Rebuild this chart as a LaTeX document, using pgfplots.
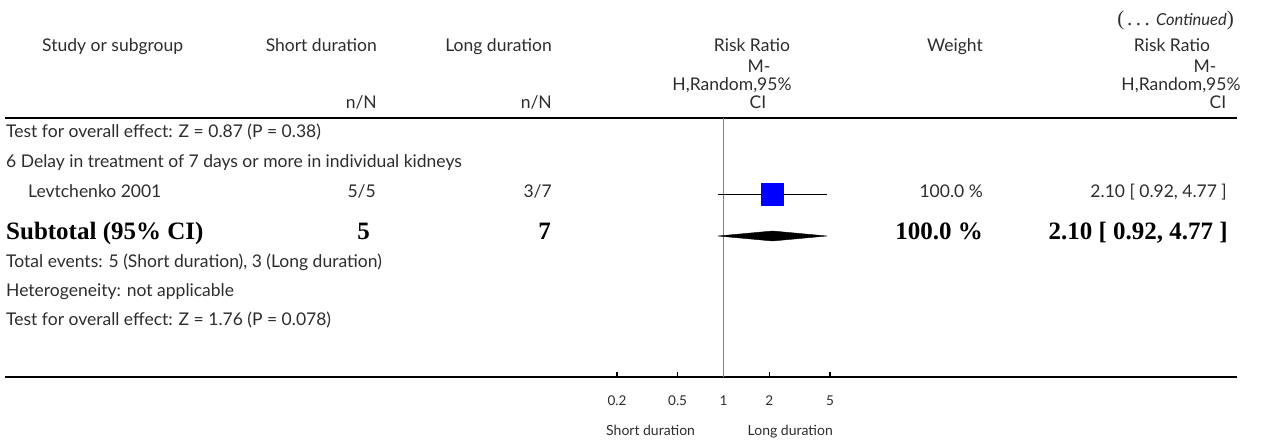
\documentclass[border=0pt]{standalone}
\usepackage{pgfplots}
\pgfplotsset{compat=1.18}
\usepackage{fontspec}
\setmainfont{Lato}
\newfontfamily\serifbf{Liberation Serif}
\definecolor{sqblue}{RGB}{0,0,255}
\definecolor{txt}{RGB}{45,45,45}
\begin{document}
\begin{tikzpicture}[x=1pt,y=1pt]
\useasboundingbox (0,0) rectangle (1266,447);
\tikzset{r/.style={font=\fontsize{17.5}{19}\selectfont, text=txt, inner sep=0pt},
         b/.style={font=\serifbf\bfseries\fontsize{25}{27}\selectfont, inner sep=0pt}}
% header
\node[r, anchor=mid east] at (1234,424) {{\serifbf\fontsize{21}{22}\selectfont(\hspace{3pt}.\hspace{3.5pt}.\hspace{3.5pt}.\hspace{6pt}}{\fontsize{16.5}{18}\selectfont\textit{Continued}}{\serifbf\fontsize{21}{22}\selectfont)}};
\node[r, anchor=mid west] at (42,398) {Study or subgroup};
\node[r, anchor=mid east] at (377,398) {Short duration};
\node[r, anchor=mid east] at (552,398) {Long duration};
\node[r, anchor=mid east] at (377,341) {n/N};
\node[r, anchor=mid east] at (552,341) {n/N};
\node[r, anchor=mid] at (752,398) {Risk Ratio};
\node[r, anchor=mid] at (759,377) {M-};
\node[r, anchor=mid] at (732,359) {H,Random,95\%};
\node[r, anchor=mid] at (758,341) {CI};
\node[r, anchor=mid] at (955,398) {Weight};
\node[r, anchor=mid] at (1172,398) {Risk Ratio};
\node[r, anchor=mid] at (1205,377) {M-};
\node[r, anchor=mid] at (1181,359) {H,Random,95\%};
\node[r, anchor=mid] at (1218,341) {CI};
% rules
\draw[line width=2.2pt] (5,329) -- (1237,329);
\draw[line width=2.2pt] (5,70) -- (1237,70);
% rows
\node[r, anchor=mid west] at (6,312) {Test for overall effect: Z = 0.87 (P = 0.38)};
\node[r, anchor=mid west] at (6,282) {6 Delay in treatment of 7 days or more in individual kidneys};
\node[r, anchor=mid west] at (28,252) {Levtchenko 2001};
\node[r, anchor=mid east] at (376,252) {5/5};
\node[r, anchor=mid east] at (552,252) {3/7};
\node[r, anchor=mid east] at (983,252) {100.0 \%};
\node[r, anchor=mid east] at (1227,252) {2.10 [ 0.92, 4.77 ]};
\node[b, anchor=mid west] at (6,210) {Subtotal (95\% CI)};
\node[b, anchor=mid east] at (370,210) {5};
\node[b, anchor=mid east] at (551,210) {7};
\node[b, anchor=mid east] at (983,210) {100.0 \%};
\node[b, anchor=mid east] at (1228,210) {2.10 [ 0.92, 4.77 ]};
\node[r, anchor=mid west] at (6,182) {Total events: 5 (Short duration), 3 (Long duration)};
\node[r, anchor=mid west] at (6,153) {Heterogeneity: not applicable};
\node[r, anchor=mid west] at (6,124) {Test for overall effect: Z = 1.76 (P = 0.078)};
\node[r, anchor=mid west, font=\fontsize{14}{16}\selectfont] at (606,14) {Short duration};
\node[r, anchor=mid east, font=\fontsize{14}{16}\selectfont] at (833,14) {Long duration};
\begin{axis}[at={(617pt,70pt)}, anchor=south west, scale only axis,
  width=213pt, height=259pt, xmode=log, xmin=0.2, xmax=5, ymin=70, ymax=329,
  clip=false, axis y line=none, axis x line=bottom,
  x axis line style={-, line width=2.2pt},
  xtick={0.2,0.5,1,2,5}, xticklabels={0.2,0.5,1,2,5}, minor xtick={},
  ytick=\empty, tick align=inside, major tick length=5pt,
  major tick style={black, line width=1.5pt},
  /pgf/number format/assume math mode=true,
  xticklabel style={anchor=mid, yshift=-26pt, inner sep=0pt, text=txt, font=\fontsize{13.5}{15}\selectfont}]
\addplot[gray, line width=0.7pt] coordinates {(1,70) (1,329)};
\addplot[only marks, mark=square*, mark size=11pt, mark options={fill=sqblue, draw=sqblue}] coordinates {(2.10,252.5)};
\addplot[black, line width=0.8pt] coordinates {(0.92,252.5) (4.77,252.5)};
\addplot[black, line width=0.6pt] coordinates {(2.10,249.5) (2.10,255.5)};
\addplot[fill=black, draw=black] coordinates {(0.92,211) (2.10,216) (4.77,211) (2.10,206)} -- cycle;
\end{axis}
\end{tikzpicture}
\end{document}
